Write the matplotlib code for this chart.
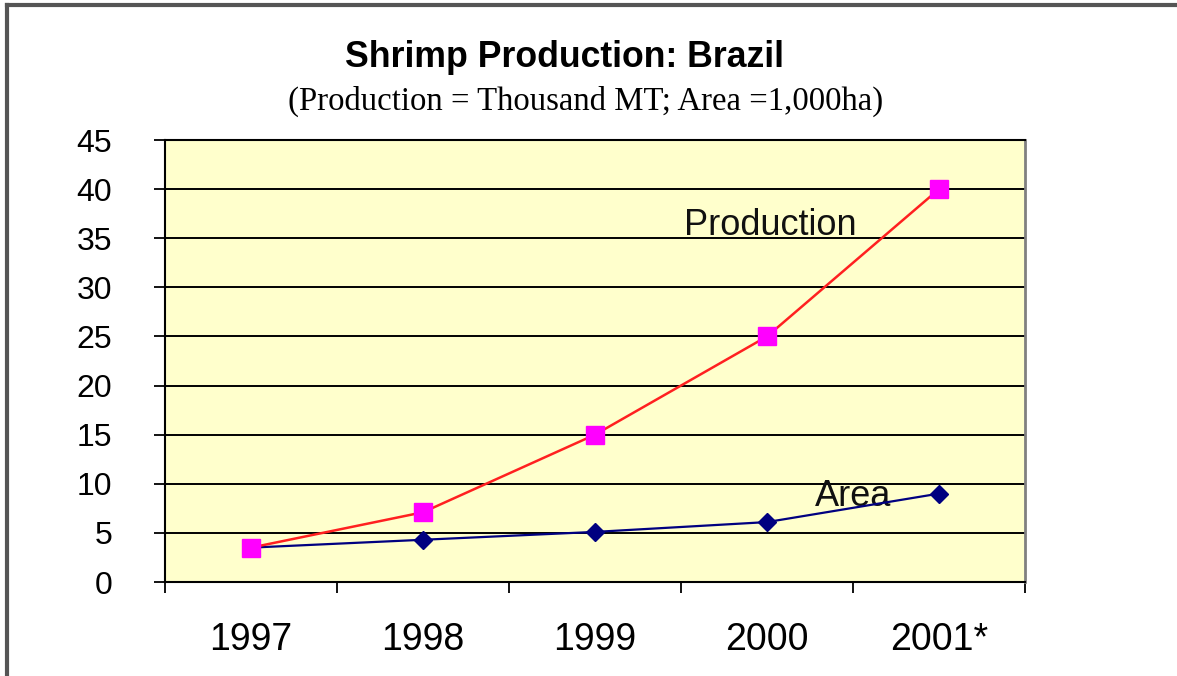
import matplotlib
matplotlib.use("Agg")
import matplotlib.pyplot as plt
from matplotlib.lines import Line2D
from matplotlib.transforms import blended_transform_factory

years = ["1997", "1998", "1999", "2000", "2001*"]
production = [3.5, 7.1, 15.0, 25.0, 40.0]
area = [3.5, 4.3, 5.1, 6.1, 9.0]
yticks = [0, 5, 10, 15, 20, 25, 30, 35, 40, 45]

W, H = 1177, 676
fig = plt.figure(figsize=(W / 100, H / 100), dpi=100)
fig.patch.set_facecolor("white")

ax = fig.add_axes([165 / W, 1 - 582 / H, 860 / W, 442 / H])
ax.set_facecolor("#FFFFCC")
x = list(range(len(years)))

ax.set_xlim(-0.5, len(years) - 0.5)
ax.set_ylim(0, 45)
ax.set_yticks(yticks)
ax.set_yticklabels([str(v) for v in yticks], fontsize=23, family="Liberation Sans")
ax.yaxis.grid(True, color="black", linewidth=1.4)
ax.set_axisbelow(True)

ax.set_xticks([i - 0.5 for i in range(len(years) + 1)])
ax.set_xticklabels([])
ax.set_xticks(x, minor=True)
ax.set_xticklabels(years, minor=True, fontsize=27, family="Liberation Sans")
ax.tick_params(axis="x", which="major", length=8, width=1.3, direction="out", color="black")
ax.tick_params(axis="x", which="minor", length=0, pad=29)
ax.tick_params(axis="y", length=8, width=1.3, direction="out", pad=30)

for s in ["top", "left", "bottom"]:
    ax.spines[s].set_color("black")
    ax.spines[s].set_linewidth(1.5)
ax.spines["right"].set_color("#808080")
ax.spines["right"].set_linewidth(2)

ax.plot(x, area, color="#000080", linewidth=1.6, marker="D", markersize=9.5,
        markerfacecolor="#000080", markeredgecolor="#000080", zorder=3)
ax.plot(x, production, color="#FF2020", linewidth=1.8, marker="s", markersize=13,
        markerfacecolor="#FF00FF", markeredgecolor="#FF00FF", zorder=4)

tr = blended_transform_factory(ax.transAxes, ax.transData)
ax.text((684 - 165) / 860, 35.3, "Production", transform=tr,
        fontsize=26, family="Liberation Sans", va="baseline", ha="left", color="#111111")
ax.text((815 - 165) / 860, 7.7, "Area", transform=tr,
        fontsize=26, family="Liberation Sans", va="baseline", ha="left", color="#111111", zorder=2)

fig.text(564.5 / W, 1 - 67 / H, "Shrimp Production: Brazil", fontsize=25.7, fontweight="bold",
         family="Liberation Sans", ha="center", va="baseline")
fig.text(585.5 / W, 1 - 110 / H, "(Production = Thousand MT; Area =1,000ha)", fontsize=23.6,
         family="Liberation Serif", ha="center", va="baseline")

# outer frame (top and left edges)
fig.add_artist(Line2D([7 / W, 1], [1 - 5 / H, 1 - 5 / H], transform=fig.transFigure,
                      color="#555555", linewidth=3))
fig.add_artist(Line2D([7 / W, 7 / W], [0, 1 - 5 / H], transform=fig.transFigure,
                      color="#555555", linewidth=3))

fig.savefig("out.png", dpi=100)
